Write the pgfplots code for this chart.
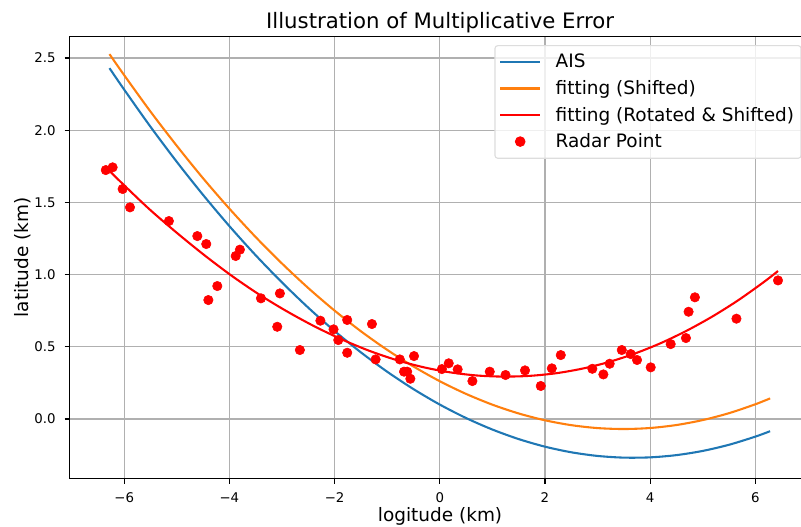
\documentclass[border=0pt]{standalone}
\usepackage{fontspec}
\setmainfont{DejaVu Sans}
\usepackage{pgfplots}
\pgfplotsset{compat=1.18}
\definecolor{mplblue}{HTML}{1F77B4}
\definecolor{mplorange}{HTML}{FF7F0E}
\definecolor{gridgray}{HTML}{B0B0B0}
\definecolor{legedge}{HTML}{DDDDDD}
\begin{document}
\begin{tikzpicture}
\useasboundingbox (-50.04pt,-34.06pt) rectangle (526.68pt,344.66pt);
\begin{axis}[
  at={(0pt,0pt)}, anchor=south west,
  scale only axis, width=533.6pt, height=318.7pt,
  xmin=-7.04, xmax=7.05, ymin=-0.413, ymax=2.652,
  xtick={-6,-4,-2,0,2,4,6},
  xticklabels={−6,−4,−2,0,2,4,6},
  ytick={0,0.5,1,1.5,2,2.5},
  yticklabels={0.0,0.5,1.0,1.5,2.0,2.5},
  tick align=outside, major tick length=3.5pt,
  tick style={black, line width=0.8pt},
  xtick pos=bottom, ytick pos=left,
  axis line style={black, line width=0.8pt},
  grid=major, major grid style={gridgray, line width=0.8pt},
  ticklabel style={font=\fontsize{9.6}{11}\selectfont, inner sep=0pt},
  xticklabel style={anchor=base, yshift=-13.8pt},
  yticklabel style={anchor=east, xshift=-6.3pt},
  title={Illustration of Multiplicative Error},
  title style={font=\fontsize{15.3}{18}\selectfont, at={(rel axis cs:0.5,1)}, anchor=base, yshift=-0.5pt, inner sep=0pt},
  xlabel={logitude (km)},
  xlabel style={font=\fontsize{13.3}{16}\selectfont, at={(rel axis cs:0.5,0)}, anchor=base, yshift=-30.7pt, inner sep=0pt},
  ylabel={latitude (km)},
  ylabel style={font=\fontsize{13.3}{16}\selectfont, at={(rel axis cs:0,0.5)}, anchor=base, yshift=29.2pt, inner sep=0pt},
  legend cell align=left,
  legend image code/.code={\draw[#1] (0pt,0pt) -- (28.8pt,0pt);},
  legend style={at={(rel axis cs:1,1)}, anchor=north east, xshift=-6.5pt, yshift=-6.5pt,
    draw=legedge, line width=0.8pt, rounded corners=2pt, fill=white, fill opacity=0.8, text opacity=1,
    font=\fontsize{13.3}{16}\selectfont,
    inner xsep=3pt, inner ysep=4.2pt, row sep=3.5pt, column sep=8.4pt},
]
\addplot[mplblue, line width=1.5pt, smooth] coordinates {
(-6.28,2.430) (-6,2.281) (-5.5,2.024) (-5,1.781) (-4.5,1.552) (-4,1.336) (-3.5,1.134) (-3,0.946) (-2.5,0.771) (-2,0.6095) (-1.5,0.4618) (-1,0.3277) (-0.5,0.2072) (0,0.1003) (0.5,0.0070) (1,-0.0726) (1.5,-0.1387) (2,-0.1912) (2.5,-0.2301) (3,-0.2554) (3.5,-0.2671) (4,-0.2652) (4.5,-0.2497) (5,-0.2206) (5.5,-0.1779) (6,-0.1216) (6.28,-0.0841)
};
\addlegendentry{AIS}
\addplot[mplorange, line width=1.5pt, smooth] coordinates {
(-6.28,2.527) (-6,2.381) (-5.5,2.129) (-5,1.892) (-4.5,1.667) (-4,1.457) (-3.5,1.260) (-3,1.077) (-2.5,0.907) (-2,0.751) (-1.5,0.608) (-1,0.479) (-0.5,0.364) (0,0.262) (0.5,0.174) (1,0.0996) (1.5,0.0387) (2,-0.0086) (2.5,-0.0423) (3,-0.0625) (3.5,-0.069) (4,-0.0619) (4.5,-0.0413) (5,-0.0070) (5.5,0.0409) (6,0.1024) (6.28,0.143)
};
\addlegendentry{fitting (Shifted)}
\addplot[red, line width=1.5pt, smooth] coordinates {
(-6.360,1.748) (-6.061,1.640) (-5.530,1.456) (-5.001,1.290) (-4.473,1.134) (-3.948,0.990) (-3.424,0.860) (-2.903,0.745) (-2.383,0.642) (-1.866,0.552) (-1.350,0.474) (-0.836,0.410) (-0.324,0.360) (0.186,0.324) (0.694,0.302) (1.200,0.294) (1.705,0.299) (2.207,0.317) (2.708,0.349) (3.206,0.394) (3.703,0.453) (4.197,0.525) (4.690,0.611) (5.182,0.710) (5.671,0.822) (6.158,0.948) (6.430,1.025)
};
\addlegendentry{fitting (Rotated \& Shifted)}
\addplot[only marks, mark=*, mark size=3.4pt, mark options={draw=red, fill=red},
  legend image code/.code={\fill[red, fill opacity=1, draw opacity=1] (14.4pt,0pt) circle (3.4pt);}] coordinates {
(-6.35,1.724) (-6.22,1.743) (-6.03,1.593) (-5.89,1.466) (-5.15,1.371) (-4.61,1.267) (-4.44,1.212) (-3.88,1.129) (-3.80,1.173) (-4.23,0.921) (-4.40,0.824) (-3.40,0.836) (-3.04,0.870) (-3.09,0.639) (-2.66,0.478) (-2.27,0.681) (-2.02,0.621) (-1.93,0.547) (-1.76,0.686) (-1.76,0.459) (-1.29,0.658) (-1.22,0.413) (-0.76,0.413) (-0.68,0.328) (-0.62,0.328) (-0.56,0.279) (-0.49,0.436) (0.04,0.346) (0.17,0.386) (0.34,0.344) (0.62,0.263) (0.95,0.328) (1.25,0.305) (1.62,0.337) (1.92,0.229) (2.13,0.351) (2.30,0.443) (2.90,0.348) (3.11,0.309) (3.23,0.383) (3.46,0.478) (3.63,0.450) (3.75,0.409) (4.01,0.358) (4.39,0.519) (4.68,0.561) (4.73,0.743) (4.85,0.843) (5.64,0.695) (6.43,0.960)
};
\addlegendentry{Radar Point}
\end{axis}
\end{tikzpicture}
\end{document}
